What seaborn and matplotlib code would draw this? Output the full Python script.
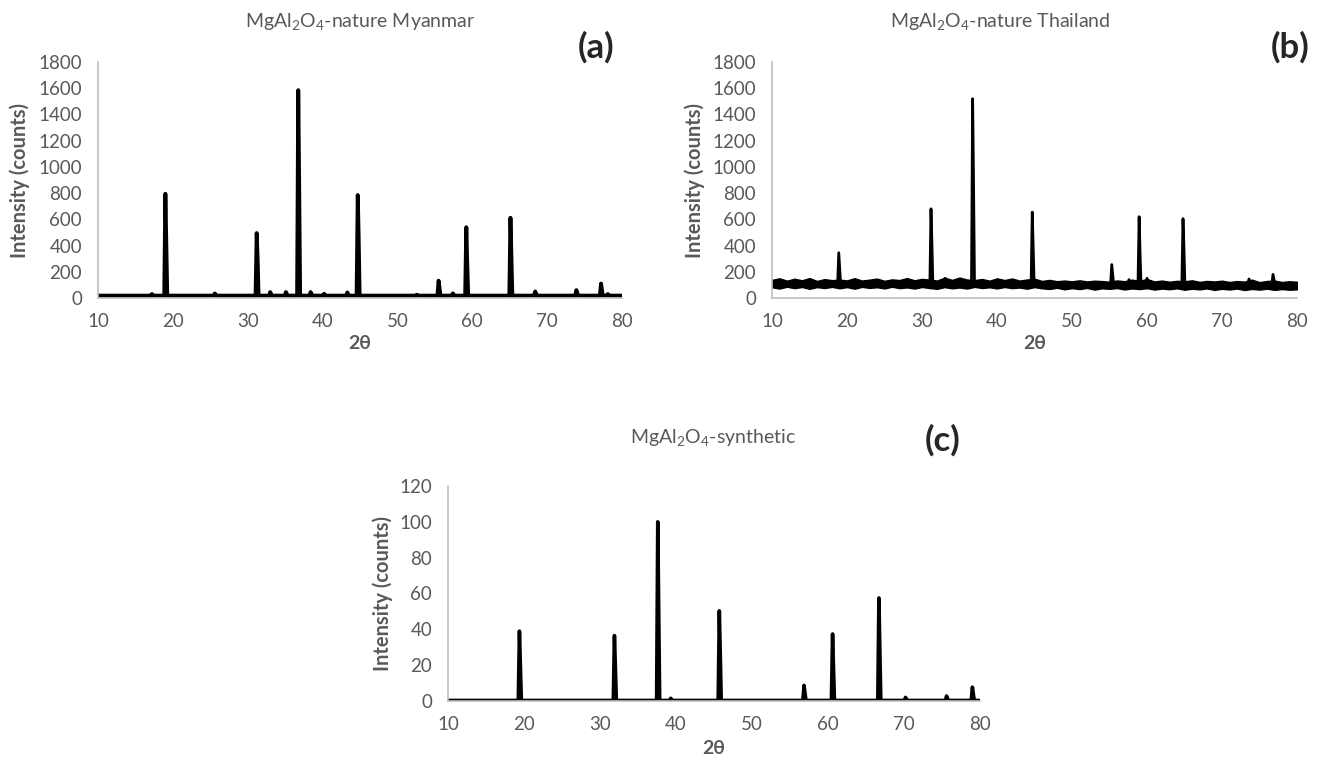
import numpy as np
import pandas as pd
import matplotlib
matplotlib.use("Agg")
import matplotlib.pyplot as plt
import seaborn as sns
from matplotlib.ticker import MultipleLocator

# 図のサイズ (px)
W, H = 1320, 771

# (a) MgAl2O4-nature Myanmar : ピーク位置, 高さ, Kα2 ショルダー
a_peak_x = [17.2, 19.0, 25.6, 31.2, 33.0, 35.1, 36.75, 38.4, 40.2, 43.3, 44.7,
            52.6, 55.5, 57.4, 59.2, 65.1, 68.4, 73.9, 77.2, 78.1]
a_peak_y = [30, 795, 35, 495, 45, 45, 1585, 45, 32, 42, 785,
            25, 132, 35, 540, 612, 50, 60, 110, 30]
a_shoulder = [0, 0, 0, 300, 0, 0, 870, 0, 0, 0, 460,
              0, 0, 0, 270, 330, 0, 0, 60, 0]
a_base = 18

# (b) MgAl2O4-nature Thailand
b_peak_x = [18.9, 31.2, 33.1, 36.75, 44.7, 55.3, 57.6, 58.95, 60.0, 64.8, 73.6, 76.8]
b_peak_y = [345, 680, 150, 1520, 655, 255, 140, 620, 150, 605, 145, 180]
b_shoulder = [0, 420, 0, 890, 400, 0, 0, 350, 0, 400, 0, 0]
b_base = 105
# ノイズ帯 (1° 刻みの上端・下端)
b_band_x = list(range(10, 81))
b_band_hi = [138, 150, 132, 147, 135, 152, 130, 144, 136, 140,
             134, 151, 133, 140, 148, 131, 142, 137, 152, 135,
             146, 140, 133, 155, 138, 156, 141, 136, 145, 132,
             150, 137, 149, 133, 141, 147, 130, 138, 128, 133,
             127, 135, 126, 132, 129, 124, 134, 128, 140, 131,
             145, 126, 133, 124, 131, 127, 135, 123, 130, 126,
             132, 122, 129, 125, 140, 121, 130, 133, 122, 128, 124]
b_band_lo = [82, 72, 86, 75, 84, 70, 83, 76, 85, 74,
             83, 71, 85, 77, 82, 73, 86, 75, 81, 72,
             84, 76, 70, 83, 74, 80, 72, 85, 76, 82,
             73, 84, 75, 80, 71, 83, 74, 69, 78, 66,
             75, 68, 77, 64, 74, 70, 76, 65, 73, 68,
             75, 64, 72, 67, 74, 63, 71, 66, 73, 62,
             70, 65, 72, 61, 69, 64, 71, 62, 68, 63, 66]

# (c) MgAl2O4-synthetic
c_peak_x = [19.4, 31.9, 37.6, 39.3, 45.7, 56.85, 60.6, 66.7, 70.2, 75.6, 79.0]
c_peak_y = [39, 36.5, 100, 1.5, 50.3, 8.7, 37.4, 57.5, 2.0, 2.8, 7.7]
c_shoulder = [0, 0, 0, 0, 27, 4.5, 18.6, 28.6, 0, 1.5, 4]
c_base = 0.3

TEXT = "#595959"
AXIS = "#bfbfbf"

sns.set_style("white")
plt.rcParams["font.family"] = ["Lato", "Open Sans", "DejaVu Sans"]
plt.rcParams["mathtext.fontset"] = "custom"
plt.rcParams["mathtext.rm"] = "Lato"
plt.rcParams["mathtext.it"] = "Lato:italic"
plt.rcParams["mathtext.bf"] = "Lato:bold"


def build_trace(px, py, sh, base):
    # ピークを三角形状の折れ線として並べる
    xs, ys = [10.0], [base]
    for p, h, s in zip(px, py, sh):
        xs += [p - 0.15, p]
        ys += [base, h]
        if s:
            xs.append(p + 0.12)
            ys.append(s)
        xs.append(p + 0.25)
        ys.append(base)
    xs.append(80.0)
    ys.append(base)
    return pd.DataFrame({"two_theta": xs, "intensity": ys})


def style_axis(ax, ymax, ystep, yminor, xlab_y, ylab_x):
    ax.set_xlim(10, 80)
    ax.set_ylim(0, ymax)
    ax.xaxis.set_major_locator(MultipleLocator(10))
    ax.xaxis.set_minor_locator(MultipleLocator(2))
    ax.yaxis.set_major_locator(MultipleLocator(ystep))
    ax.yaxis.set_minor_locator(MultipleLocator(yminor))
    for s in ["top", "right"]:
        ax.spines[s].set_visible(False)
    for s in ["left", "bottom"]:
        ax.spines[s].set_color(AXIS)
        ax.spines[s].set_linewidth(1.2)
    ax.tick_params(which="both", direction="out", color=AXIS, width=1,
                   labelcolor=TEXT, labelsize=13.5)
    ax.tick_params(which="both", length=3.5)
    ax.tick_params(axis="x", which="both", pad=7)
    ax.tick_params(axis="y", which="both", pad=8)
    ax.set_xlabel("2θ", fontsize=14, fontweight="bold", color=TEXT)
    ax.set_ylabel("Intensity (counts)", fontsize=14.5, fontweight="bold", color=TEXT)
    ax.xaxis.set_label_coords(0.5, xlab_y)
    ax.yaxis.set_label_coords(ylab_x, 0.5)


def rect(x0, x1, y_top, y_bot):
    return [x0 / W, 1 - y_bot / H, (x1 - x0) / W, (y_bot - y_top) / H]


fig = plt.figure(figsize=(W / 100, H / 100), dpi=100)
ax_a = fig.add_axes(rect(98, 622, 62, 298))
ax_b = fig.add_axes(rect(772, 1297, 62, 298))
ax_c = fig.add_axes(rect(448, 980, 486, 701))

# (a)
df_a = build_trace(a_peak_x, a_peak_y, a_shoulder, a_base)
sns.lineplot(data=df_a, x="two_theta", y="intensity", ax=ax_a, color="black",
             linewidth=2.8, estimator=None, sort=False)
style_axis(ax_a, 1800, 200, 40, -0.157, -0.13)

# (b)
ax_b.fill_between(b_band_x, b_band_lo, b_band_hi, color="black", linewidth=1.0,
                  edgecolor="black")
df_b = build_trace(b_peak_x, b_peak_y, b_shoulder, b_base)
sns.lineplot(data=df_b, x="two_theta", y="intensity", ax=ax_b, color="black",
             linewidth=2.0, estimator=None, sort=False)
style_axis(ax_b, 1800, 200, 40, -0.157, -0.128)

# (c)
df_c = build_trace(c_peak_x, c_peak_y, c_shoulder, c_base)
sns.lineplot(data=df_c, x="two_theta", y="intensity", ax=ax_c, color="black",
             linewidth=2.6, estimator=None, sort=False)
style_axis(ax_c, 120, 20, 4, -0.181, -0.103)

# タイトルとパネル記号
fig.text(360 / W, 1 - 21 / H, "MgAl$_2$O$_4$-nature Myanmar", ha="center", va="center",
         fontsize=14, color=TEXT)
fig.text(1000 / W, 1 - 21 / H, "MgAl$_2$O$_4$-nature Thailand", ha="center", va="center",
         fontsize=14, color=TEXT)
fig.text(713 / W, 1 - 437 / H, "MgAl$_2$O$_4$-synthetic", ha="center", va="center",
         fontsize=14, color=TEXT)
fig.text(596 / W, 1 - 47 / H, "(a)", ha="center", va="center", fontsize=25,
         fontweight="bold", color="#262626")
fig.text(1290 / W, 1 - 47 / H, "(b)", ha="center", va="center", fontsize=25,
         fontweight="bold", color="#262626")
fig.text(943 / W, 1 - 440 / H, "(c)", ha="center", va="center", fontsize=25,
         fontweight="bold", color="#262626")

fig.savefig("out.png", dpi=100)
